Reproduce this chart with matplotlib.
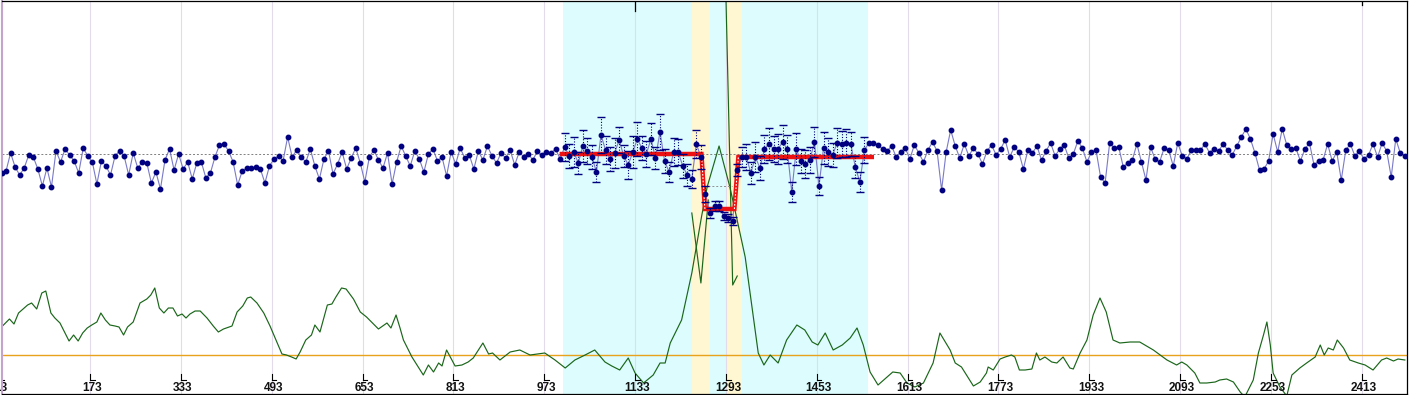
import numpy as np
import matplotlib
matplotlib.use('Agg')
import matplotlib.pyplot as plt
from matplotlib.transforms import blended_transform_factory

# light curve: one sample every 8 time units from t=17, values in ppt from baseline
t_first, cadence = 17, 8
ppt_a = [-19, -17, 1, -13, -21, -14, -1, -3, -15, -32, -14, -33, 3, -8, 5, -1, -7, -19, 6, -2,
         -8, -30, -7, -12, -21, -2, 3, -2, -21, 1, -14, -8, -9, -29, -18, -35, -6, 5, -16, 0,
         -15, -8, -25, -9, -8, -24, -19, -3, 9, 10, 3, -8, -31, -17, -14, -14, -13, -15, -29, -12,
         -5, -2, -7, 17, -3, 4, -3]
ppt_b = [-8, 5, -12, -25, -5, 3, -20, -10, 2, -15, -4, 6, -9, -28, -3, 4, -6, -14, 1, -30,
         -8, 8, -2, -12, 3, -5, -18, 0, 5, -7, -3, -22, 2, -10, 6, -4, -1, -15, 3, -6,
         8, -2, -9, 1, -4, 4, -11, 2, -3, 0, -6, 3, -1, 2, 1, 5, -5]
# samples with error bars (observation window)
obs_ppt = [7, -2, 2, -9, 8, 3, -3, -18, 19, 4, -5, 1, 14, -2, -11, 2, 15, 6, 0, 15,
           -4, 22, -7, -18, 2, 2, -12, -21, -25, 10, -3, -40, -59, -52, -52, -62, -64, -67, -16, -3,
           -3, -19, -3, -14, 5, 10, 5, 5, 12, 5, -38, 5, -7, -10, -6, 12, -32, 6, 2, -1,
           11, 10, 11, 10, -13, -28, 4]
obs_err = [14, 12, 15, 11, 16, 13, 12, 10, 18, 14, 12, 15, 13, 11, 14, 16, 17, 12, 13, 16,
           11, 18, 12, 10, 14, 13, 12, 11, 9, 14, 12, 8, 5, 5, 5, 4, 4, 4, 6, 10,
           13, 11, 15, 12, 14, 16, 13, 15, 17, 14, 10, 16, 12, 14, 13, 15, 9, 16, 14, 12,
           15, 13, 14, 12, 11, 10, 13]
ppt_c = [11, 11, 9, 5, 3, 8, -3, 2, 6, -5, 9, 1, -8, 4, 12, 3, -36, 2, 24, 8,
         -4, 10, -2, 6, 0, -10, 3, 9, -1, 5, 14, -3, 7, 2, -15, 4, 1, 8, -6, 3,
         11, -2, 5, 9, -4, 0, 13, 6, -8, 2, 4]
ppt_d = [-23, -29, 11, 6, 7, -13, -9, -6, 10, -8, -26, 7, -5, -8, 6, 4, -12, 11, -2, -5,
         4, 4, 4, 10, 1, 5, 3, 10, 4, -1, 8, 17, 25, 15, 1, -16, -15, -7, 20, 2,
         25, 9, 5, 6, -7, 5, 11, -11, -7, -6, 10, -7, 2, -26, 4, 10, -2, 3, -5, -1,
         10, -3, 11, 3, -23, 15, 1, -2]

# transit model (time, ppt)
model_t = [1004, 1250, 1256, 1308, 1315, 1550]
model_ppt = [0, 0, -55, -55, -3, -3]

# detection statistic curve
green_t = [17, 31, 39, 47, 55, 63, 70, 79, 88, 95, 104, 111, 120, 129, 136, 144, 152, 160, 168, 176,
           185, 192, 200, 208, 217, 224, 232, 239, 249, 261, 273, 280, 287, 295, 303, 311, 319, 327, 335, 342,
           349, 358, 367, 379, 390, 399, 408, 423, 432, 442, 450, 456, 467, 479, 490, 499, 511, 519, 528, 536,
           543, 553, 563, 569, 578, 591, 599, 606, 616, 624, 637, 649, 660, 667, 681, 696, 703, 712, 719, 725,
           740, 760, 769, 778, 787, 793, 801, 816, 828, 839, 848, 865, 875, 882, 895, 913, 930, 948, 974, 992,
           1010, 1027, 1045, 1062, 1080, 1092, 1106, 1121, 1133, 1148, 1165, 1177, 1186, 1195, 1215, 1233, 1250, 1260, 1281, 1300,
           1309, 1327, 1350, 1360, 1371, 1385, 1400, 1418, 1432, 1445, 1455, 1468, 1482, 1498, 1512, 1524, 1535, 1547, 1561, 1575,
           1587, 1600, 1612, 1626, 1641, 1658, 1670, 1688, 1697, 1708, 1729, 1741, 1752, 1755, 1764, 1776, 1785, 1796, 1802, 1810,
           1820, 1832, 1840, 1846, 1855, 1867, 1876, 1887, 1899, 1905, 1917, 1929, 1940, 1952, 1963, 1975, 1987, 2005, 2022, 2046,
           2070, 2087, 2096, 2105, 2119, 2128, 2140, 2155, 2163, 2175, 2187, 2199, 2207, 2222, 2231, 2240, 2246, 2252, 2257, 2269,
           2281, 2290, 2304, 2316, 2331, 2340, 2347, 2354, 2363, 2370, 2381, 2392, 2407, 2419, 2433, 2448, 2457, 2469, 2477, 2489]
green_v = [66, 74, 69, 80, 84, 88, 90, 84, 100, 102, 80, 75, 70, 60, 52, 58, 52, 60, 65, 68,
           71, 80, 73, 68, 67, 66, 58, 66, 71, 90, 94, 98, 105, 85, 80, 85, 85, 77, 79, 75,
           79, 82, 82, 75, 67, 61, 64, 67, 81, 87, 95, 96, 90, 80, 67, 55, 39, 38, 36, 34,
           41, 53, 58, 68, 61, 88, 89, 96, 105, 104, 94, 81, 76, 72, 64, 70, 65, 78, 65, 53,
           36, 18, 28, 21, 30, 27, 43, 27, 28, 31, 35, 50, 39, 40, 33, 41, 43, 38, 40, 33,
           25, 33, 38, 43, 31, 27, 23, 35, 20, 10, 18, 30, 30, 50, 73, 120, 176, 206, 247, 206,
           183, 136, 40, 28, 38, 30, 53, 68, 63, 51, 48, 60, 43, 48, 55, 65, 48, 21, 8, 15,
           21, 20, 10, 6, 10, 30, 60, 43, 30, 26, 7, 11, 20, 26, 23, 34, 36, 38, 36, 23,
           23, 24, 40, 33, 36, 31, 30, 36, 25, 24, 40, 53, 78, 95, 81, 53, 50, 51, 51, 43,
           33, 28, 31, 28, 20, 10, 10, 11, 13, 14, 11, 1, -4, 13, 40, 58, 71, 48, 20, 6,
           -3, 18, 25, 30, 36, 48, 38, 45, 43, 53, 45, 33, 30, 28, 23, 33, 35, 32, 34, 33]
green2_t = [1233, 1249, 1262, np.nan, 1293, 1305, 1313]
green2_v = [180, 110, 193, np.nan, 398, 108, 117]
threshold = 38

# shaded windows
obs_window = (1006, 1543)
ingress_window = (1233, 1265)
egress_window = (1293, 1321)
half_depth = (1262, 1304, -32)
tick_vals = list(range(13, 2414, 160))
top_marks = [(1133, 10), (2413, 4)]

ppt = np.array(ppt_a + ppt_b + obs_ppt + ppt_c + ppt_d, dtype=float)
t = t_first + cadence * np.arange(len(ppt))
flux = 1 + ppt / 1000
i0 = len(ppt_a) + len(ppt_b)
obs = slice(i0, i0 + len(obs_ppt))

fig = plt.figure(figsize=(14.09, 3.95), dpi=100)
ax = fig.add_axes([1.5 / 1409, 1.5 / 395, 1405.5 / 1409, 393 / 395])
ax2 = ax.twinx()
ax.set_zorder(ax2.get_zorder() + 1)
ax.patch.set_visible(False)

ax.set_xlim(17.0, 2492.8)
ax.set_ylim(0.7605, 1.1535)
ax2.set_ylim(-0.5, 392.5)

# background layer
ax2.axvspan(*obs_window, color='#DCFCFD', lw=0, zorder=0)
ax2.axvspan(*ingress_window, color='#FFF6D2', lw=0, zorder=0.5)
ax2.axvspan(*egress_window, color='#FFF6D2', lw=0, zorder=0.5)
for u in tick_vals:
    ax2.axvline(u, color='#E2DBEC', lw=0.8, zorder=1)
ax2.axhline(threshold, color='#E8A21C', lw=1.0, zorder=2)
ax2.plot(green_t, green_v, color='#1A661A', lw=0.85, zorder=3)
ax2.plot(green2_t, green2_v, color='#1A661A', lw=0.85, zorder=3)

trans = blended_transform_factory(ax2.transData, ax2.transAxes)
for u in tick_vals:
    ax2.plot([u, u], [0.034, 0.05], transform=trans, color='black', lw=0.8, zorder=4)
    ax2.plot([u, u + 8.3], [0.034, 0.034], transform=trans, color='black', lw=0.8, zorder=4)
    ax2.text(u + 3.5, 0.013, str(u), transform=trans, ha='center', va='center',
             fontsize=8.5, fontweight='bold', family='Liberation Sans', color='#111111',
             clip_on=False)
for u, length in top_marks:
    ax2.plot([u, u], [1 - length / 393, 1], transform=trans, color='black', lw=0.9, zorder=4)

# light curve layer
ax.axhline(1.0, color='#808080', lw=0.7, ls=(0, (2, 2)), zorder=2)
ax.plot([half_depth[0], half_depth[1]], [1 + half_depth[2] / 1000] * 2,
        color='#909090', lw=0.7, ls=(0, (2, 2)), zorder=2)
ax.plot(t, flux, color='#7A7AC8', lw=0.8, zorder=3)
model_flux = [1 + v / 1000 for v in model_ppt]
ax.plot(model_t, model_flux, color='#EE1111', lw=3.2, zorder=4, solid_joinstyle='miter')
ax.plot(model_t[1:3], model_flux[1:3], color='white', lw=0.8, ls=(0, (1.5, 1.5)), zorder=4.5)
ax.plot(model_t[3:5], model_flux[3:5], color='white', lw=0.8, ls=(0, (1.5, 1.5)), zorder=4.5)
ax.errorbar(t[obs], flux[obs], yerr=np.array(obs_err) / 1000, fmt='none',
            ecolor='#000080', elinewidth=0.8, capsize=2.6, capthick=1.0, zorder=5,
            linestyle='none')
eb = ax.containers[-1]
for lc in eb.lines[2]:
    lc.set_linestyle((0, (1, 1.5)))
ax.plot(t, flux, ls='none', marker='o', ms=3.2, color='#000080', zorder=6)

for a in (ax, ax2):
    a.set_xticks([])
    a.set_yticks([])
for s in ax2.spines.values():
    s.set_visible(False)
for name in ('top', 'right', 'bottom'):
    ax.spines[name].set_color('black')
    ax.spines[name].set_linewidth(0.9)
ax.spines['left'].set_color('#C4A4CE')
ax.spines['left'].set_linewidth(1.5)

fig.savefig('out.png', dpi=100, facecolor='white')
